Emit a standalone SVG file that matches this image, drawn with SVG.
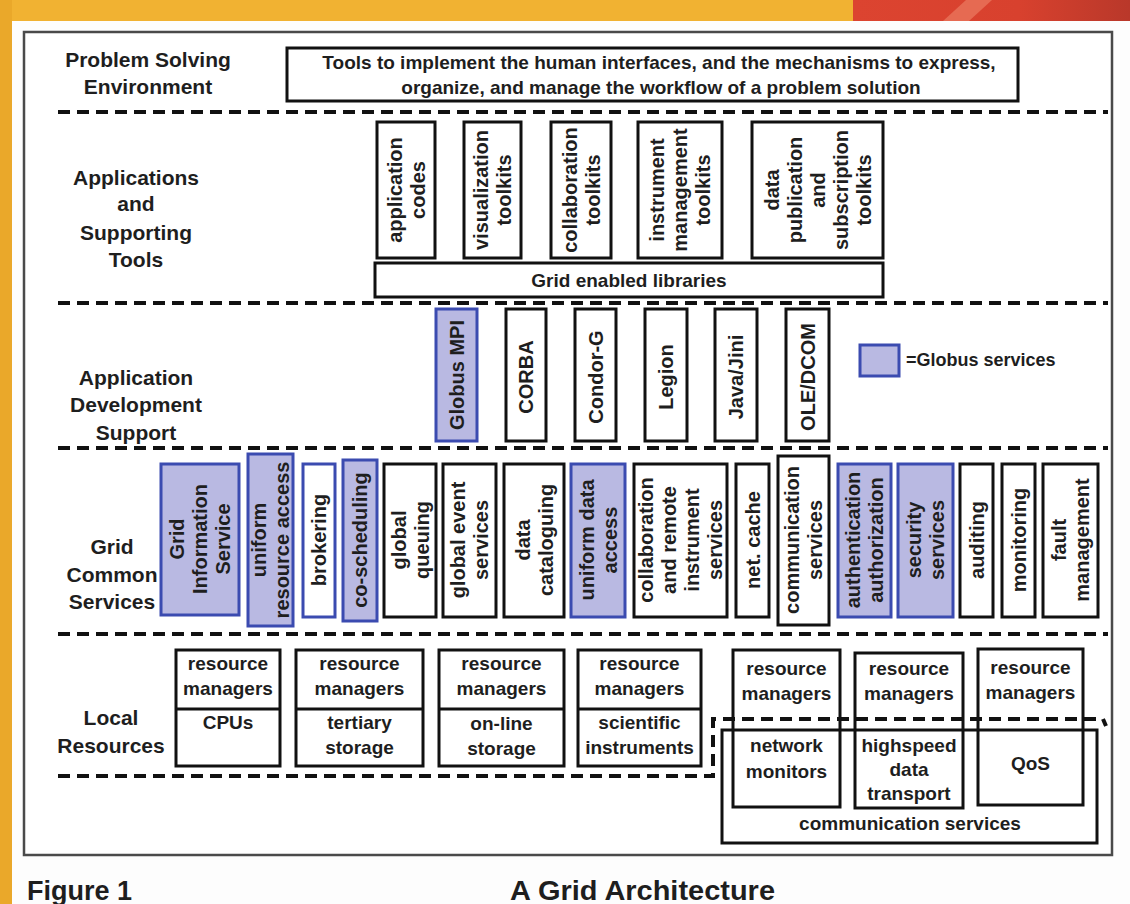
<svg xmlns="http://www.w3.org/2000/svg" width="1130" height="904" viewBox="0 0 1130 904">
<defs>
<style>
text{font-family:"Liberation Sans",Arial,sans-serif;font-weight:bold;fill:#1e1e1e}
.lbl{font-size:21px;text-anchor:middle}
.t{font-size:19px;text-anchor:middle}
.r{font-size:20px;text-anchor:middle}
.cap{font-size:27px}
.bx{fill:#fff;stroke:#111;stroke-width:3}
.bo{fill:none;stroke:#111;stroke-width:3}
.gb{fill:#b9b9e2;stroke:#3b4bb0;stroke-width:3}
.dash{fill:none;stroke:#111;stroke-width:4;stroke-dasharray:12 7}
</style>
<linearGradient id="redg" x1="0" y1="0" x2="1" y2="0">
<stop offset="0" stop-color="#dc4430"/>
<stop offset="0.6" stop-color="#d8412e"/>
<stop offset="1" stop-color="#b9382a"/>
</linearGradient>
</defs>
<rect width="1130" height="904" fill="#fdfdfd"/>
<g id="frame">
<rect x="0" y="0" width="1130" height="21" fill="#f1b232"/>
<rect x="853" y="0" width="277" height="21" fill="url(#redg)"/>
<polygon points="943,21 966,0 992,0 969,21" fill="#e66a52"/>
<rect x="0" y="0" width="12" height="904" fill="#eaa82a"/>
<rect x="24" y="32" width="1088" height="823" fill="#fff" stroke="#4a4a4a" stroke-width="2.5"/>
</g>

<g id="separators">
<line class="dash" x1="58" y1="112" x2="1108" y2="112"/>
<line class="dash" x1="58" y1="303" x2="1108" y2="303"/>
<line class="dash" x1="58" y1="448" x2="1108" y2="448"/>
<line class="dash" x1="58" y1="634" x2="1108" y2="634"/>
<path class="dash" d="M58 776 H713 V719 H1103 L1106 726"/>
</g>

<g id="label-pse">
<text class="lbl" x="148" y="67">Problem Solving</text>
<text class="lbl" x="148" y="94">Environment</text>
</g>
<g id="pse-box">
<rect x="287" y="48" width="731" height="53" class="bx" stroke-width="4"/>
<text class="t" x="659" y="69">Tools to implement the human interfaces, and the mechanisms to express,</text>
<text class="t" x="661" y="94">organize, and manage the workflow of a problem solution</text>
</g>

<g id="label-apps">
<text class="lbl" x="136" y="185">Applications</text>
<text class="lbl" x="136" y="211">and</text>
<text class="lbl" x="136" y="240">Supporting</text>
<text class="lbl" x="136" y="267">Tools</text>
</g>
<g id="app-codes">
<rect class="bx" x="377" y="122" width="58" height="136"/>
<text class="r" transform="translate(406,190) rotate(-90)"><tspan x="0" y="-4.5">application</tspan><tspan x="0" y="18.5">codes</tspan></text>
</g>
<g id="app-visualization">
<rect class="bx" x="464" y="122" width="57" height="136"/>
<text class="r" transform="translate(492.5,190) rotate(-90)"><tspan x="0" y="-4.5">visualization</tspan><tspan x="0" y="18.5">toolkits</tspan></text>
</g>
<g id="app-collaboration">
<rect class="bx" x="551" y="122" width="60" height="136"/>
<text class="r" transform="translate(581,190) rotate(-90)"><tspan x="0" y="-4.5">collaboration</tspan><tspan x="0" y="18.5">toolkits</tspan></text>
</g>
<g id="app-instrument">
<rect class="bx" x="638" y="122" width="84" height="136"/>
<text class="r" transform="translate(680,190) rotate(-90)"><tspan x="0" y="-16">instrument</tspan><tspan x="0" y="7">management</tspan><tspan x="0" y="30">toolkits</tspan></text>
</g>
<g id="app-datapub">
<rect class="bx" x="752" y="122" width="131" height="136"/>
<text class="r" transform="translate(817.5,190) rotate(-90)"><tspan x="0" y="-39">data</tspan><tspan x="0" y="-16">publication</tspan><tspan x="0" y="7">and</tspan><tspan x="0" y="30">subscription</tspan><tspan x="0" y="53">toolkits</tspan></text>
</g>
<g id="grid-libraries">
<rect class="bx" x="375" y="263" width="508" height="34"/>
<text class="t" x="629" y="287">Grid enabled libraries</text>
</g>

<g id="label-ads">
<text class="lbl" x="136" y="385">Application</text>
<text class="lbl" x="136" y="412">Development</text>
<text class="lbl" x="136" y="440">Support</text>
</g>
<g id="ads-globus-mpi">
<rect class="gb" x="436" y="309" width="41" height="132"/>
<text class="r" transform="translate(456.5,375) rotate(-90)" x="0" y="7">Globus MPI</text>
</g>
<g id="ads-corba">
<rect class="bx" x="506" y="309" width="40" height="132"/>
<text class="r" transform="translate(526,377) rotate(-90)" x="0" y="7">CORBA</text>
</g>
<g id="ads-condor">
<rect class="bx" x="575" y="309" width="41" height="132"/>
<text class="r" transform="translate(595.5,377) rotate(-90)" x="0" y="7">Condor-G</text>
</g>
<g id="ads-legion">
<rect class="bx" x="645" y="309" width="42" height="132"/>
<text class="r" transform="translate(666,377) rotate(-90)" x="0" y="7">Legion</text>
</g>
<g id="ads-java">
<rect class="bx" x="715" y="309" width="42" height="132"/>
<text class="r" transform="translate(736,377) rotate(-90)" x="0" y="7">Java/Jini</text>
</g>
<g id="ads-ole">
<rect class="bx" x="786" y="309" width="43" height="132"/>
<text class="r" transform="translate(807.5,377) rotate(-90)" x="0" y="7">OLE/DCOM</text>
</g>
<g id="legend">
<rect class="gb" x="860" y="345" width="39" height="31"/>
<text x="906" y="366" font-size="18">=Globus services</text>
</g>

<g id="label-gcs">
<text class="lbl" x="112" y="554">Grid</text>
<text class="lbl" x="112" y="582">Common</text>
<text class="lbl" x="112" y="609">Services</text>
</g>
<g id="gcs-gis">
<rect class="gb" x="161" y="464" width="78" height="151" stroke-width="8"/>
<text class="r" transform="translate(200,539) rotate(-90)"><tspan x="0" y="-16">Grid</tspan><tspan x="0" y="7">Information</tspan><tspan x="0" y="30">Service</tspan></text>
</g>
<g id="gcs-ura">
<rect class="gb" x="248" y="454" width="45" height="172" stroke-width="5"/>
<text class="r" transform="translate(270.5,540) rotate(-90)"><tspan x="0" y="-4.5">uniform</tspan><tspan x="0" y="18.5">resource access</tspan></text>
</g>
<g id="gcs-brokering">
<rect x="303" y="464" width="32" height="153" fill="#fff" stroke="#3b4bb0" stroke-width="3"/>
<text class="r" transform="translate(319,540) rotate(-90)" x="0" y="7">brokering</text>
</g>
<g id="gcs-coscheduling">
<rect class="gb" x="343" y="460" width="34" height="161" stroke-width="4"/>
<text class="r" transform="translate(360,540) rotate(-90)" x="0" y="7">co-scheduling</text>
</g>
<g id="gcs-global-queuing">
<rect class="bx" x="384" y="464" width="52" height="153"/>
<text class="r" transform="translate(410,540) rotate(-90)"><tspan x="0" y="-4.5">global</tspan><tspan x="0" y="18.5">queuing</tspan></text>
</g>
<g id="gcs-global-event">
<rect class="bx" x="443" y="464" width="53" height="153"/>
<text class="r" transform="translate(469.5,540) rotate(-90)"><tspan x="0" y="-4.5">global event</tspan><tspan x="0" y="18.5">services</tspan></text>
</g>
<g id="gcs-data-cataloguing">
<rect class="bx" x="504" y="464" width="60" height="153"/>
<text class="r" transform="translate(534,540) rotate(-90)"><tspan x="0" y="-4.5">data</tspan><tspan x="0" y="18.5">cataloguing</tspan></text>
</g>
<g id="gcs-uniform-data">
<rect class="gb" x="571" y="464" width="54" height="153"/>
<text class="r" transform="translate(598,540) rotate(-90)"><tspan x="0" y="-4.5">uniform data</tspan><tspan x="0" y="18.5">access</tspan></text>
</g>
<g id="gcs-collab">
<rect class="bx" x="634" y="464" width="93" height="153"/>
<text class="r" transform="translate(680.5,540) rotate(-90)"><tspan x="0" y="-27.5">collaboration</tspan><tspan x="0" y="-4.5">and remote</tspan><tspan x="0" y="18.5">instrument</tspan><tspan x="0" y="41.5">services</tspan></text>
</g>
<g id="gcs-netcache">
<rect class="bx" x="736" y="464" width="33" height="153"/>
<text class="r" transform="translate(752.5,540) rotate(-90)" x="0" y="7">net. cache</text>
</g>
<g id="gcs-communication">
<rect class="bx" x="778" y="456" width="51" height="169"/>
<text class="r" transform="translate(803.5,540) rotate(-90)"><tspan x="0" y="-4.5">communication</tspan><tspan x="0" y="18.5">services</tspan></text>
</g>
<g id="gcs-auth">
<rect class="gb" x="838" y="464" width="53" height="153"/>
<text class="r" transform="translate(864.5,540) rotate(-90)"><tspan x="0" y="-4.5">authentication</tspan><tspan x="0" y="18.5">authorization</tspan></text>
</g>
<g id="gcs-security">
<rect class="gb" x="898" y="464" width="55" height="153"/>
<text class="r" transform="translate(925.5,540) rotate(-90)"><tspan x="0" y="-4.5">security</tspan><tspan x="0" y="18.5">services</tspan></text>
</g>
<g id="gcs-auditing">
<rect class="bx" x="960" y="464" width="33" height="153"/>
<text class="r" transform="translate(976.5,540) rotate(-90)" x="0" y="7">auditing</text>
</g>
<g id="gcs-monitoring">
<rect class="bx" x="1002" y="464" width="33" height="153"/>
<text class="r" transform="translate(1018.5,540) rotate(-90)" x="0" y="7">monitoring</text>
</g>
<g id="gcs-fault">
<rect class="bx" x="1043" y="464" width="55" height="153"/>
<text class="r" transform="translate(1070.5,540) rotate(-90)"><tspan x="0" y="-4.5">fault</tspan><tspan x="0" y="18.5">management</tspan></text>
</g>

<g id="label-local">
<text class="lbl" x="111" y="725">Local</text>
<text class="lbl" x="111" y="753">Resources</text>
</g>
<g id="lr-cpus">
<rect class="bx" x="176" y="650" width="104" height="116"/>
<line x1="176" y1="709" x2="280" y2="709" stroke="#111" stroke-width="3"/>
<text class="t" x="228" y="670">resource</text>
<text class="t" x="228" y="695">managers</text>
<text class="t" x="228" y="729">CPUs</text>
</g>
<g id="lr-tertiary">
<rect class="bx" x="296" y="650" width="127" height="116"/>
<line x1="296" y1="709" x2="423" y2="709" stroke="#111" stroke-width="3"/>
<text class="t" x="359.5" y="670">resource</text>
<text class="t" x="359.5" y="695">managers</text>
<text class="t" x="359.5" y="729">tertiary</text>
<text class="t" x="359.5" y="754">storage</text>
</g>
<g id="lr-online">
<rect class="bx" x="439" y="650" width="125" height="116"/>
<line x1="439" y1="709" x2="564" y2="709" stroke="#111" stroke-width="3"/>
<text class="t" x="501.5" y="670">resource</text>
<text class="t" x="501.5" y="695">managers</text>
<text class="t" x="501.5" y="730">on-line</text>
<text class="t" x="501.5" y="755">storage</text>
</g>
<g id="lr-scientific">
<rect class="bx" x="578" y="650" width="123" height="116"/>
<line x1="578" y1="709" x2="701" y2="709" stroke="#111" stroke-width="3"/>
<text class="t" x="639.5" y="670">resource</text>
<text class="t" x="639.5" y="695">managers</text>
<text class="t" x="639.5" y="729">scientific</text>
<text class="t" x="639.5" y="754">instruments</text>
</g>
<g id="lr-network">
<rect class="bo" x="733" y="650" width="107" height="157"/>
<text class="t" x="786.5" y="675">resource</text>
<text class="t" x="786.5" y="700">managers</text>
<text class="t" x="786.5" y="752">network</text>
<text class="t" x="786.5" y="778">monitors</text>
</g>
<g id="lr-highspeed">
<rect class="bo" x="855" y="653" width="108" height="155"/>
<text class="t" x="909" y="675">resource</text>
<text class="t" x="909" y="700">managers</text>
<text class="t" x="909" y="752">highspeed</text>
<text class="t" x="909" y="776">data</text>
<text class="t" x="909" y="800">transport</text>
</g>
<g id="lr-qos">
<rect class="bo" x="978" y="649" width="105" height="156"/>
<text class="t" x="1030.5" y="674">resource</text>
<text class="t" x="1030.5" y="699">managers</text>
<text class="t" x="1030.5" y="770">QoS</text>
</g>
<g id="lr-communication">
<rect class="bo" x="722" y="730" width="375" height="113"/>
<text class="t" x="910" y="830">communication services</text>
</g>

<g id="caption">
<text class="cap" x="27" y="900">Figure 1</text>
<text class="cap" x="510" y="900" textLength="265" lengthAdjust="spacingAndGlyphs">A Grid Architecture</text>
</g>
</svg>
